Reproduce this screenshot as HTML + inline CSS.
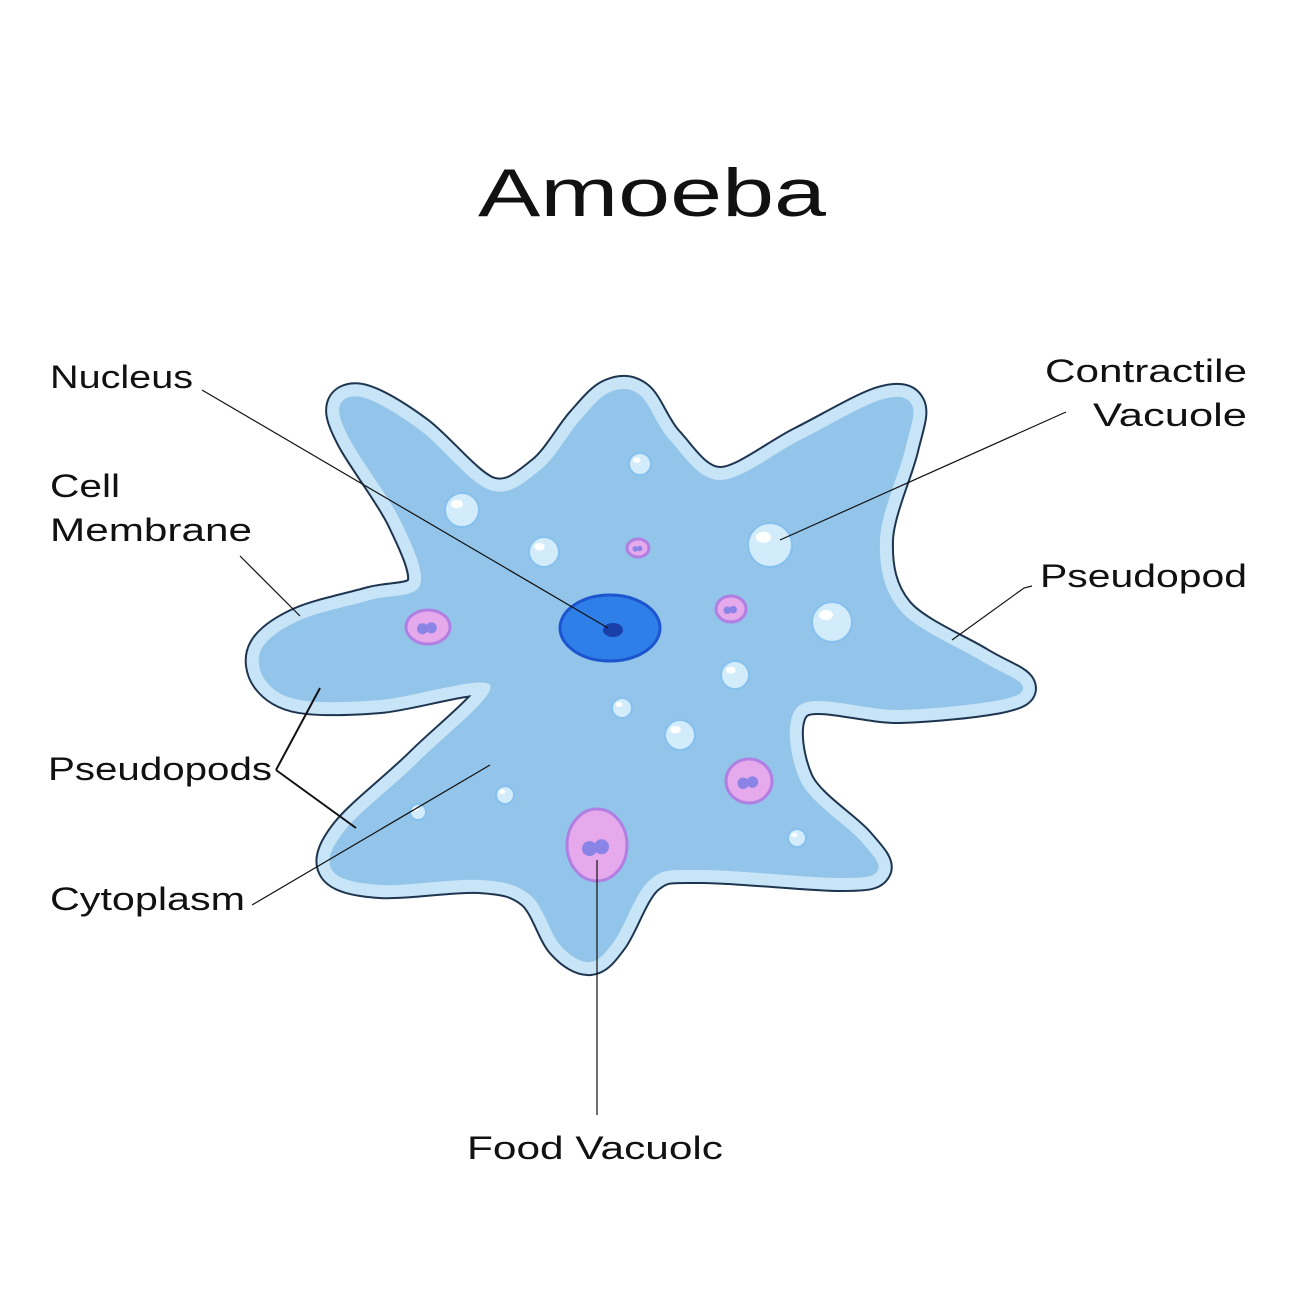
<!DOCTYPE html>
<html><head><meta charset="utf-8"><style>
body{margin:0;background:#fff}
svg{display:block}
text{font-family:"Liberation Sans",sans-serif;fill:#111}
</style></head><body>
<svg id="s" width="1300" height="1300" viewBox="0 0 1300 1300">
<rect width="1300" height="1300" fill="#fff"/>
<text x="478" y="216" font-size="68" textLength="348" lengthAdjust="spacingAndGlyphs">Amoeba</text>
<g id="body"></g>
<g id="orgs"></g>
<g stroke="#111" stroke-width="1.2" fill="none">
<line x1="202" y1="390" x2="608" y2="628"/>
<line x1="240" y1="556" x2="300" y2="616"/>
<line x1="1066" y1="412" x2="780" y2="540"/>
<polyline points="1032,586 1024,588 952,640"/>
<line x1="276" y1="770" x2="320" y2="688" stroke-width="2"/>
<line x1="276" y1="770" x2="356" y2="828" stroke-width="2"/>
<line x1="252" y1="905" x2="490" y2="765"/>
<line x1="597" y1="1115" x2="597" y2="860"/>
</g>
<g font-size="32" lengthAdjust="spacingAndGlyphs">
<text x="50" y="388" textLength="143" lengthAdjust="spacingAndGlyphs">Nucleus</text>
<text x="50" y="497" textLength="70" lengthAdjust="spacingAndGlyphs">Cell</text>
<text x="50" y="541" textLength="202" lengthAdjust="spacingAndGlyphs">Membrane</text>
<text x="1045" y="382" textLength="202" lengthAdjust="spacingAndGlyphs">Contractile</text>
<text x="1093" y="426" textLength="154" lengthAdjust="spacingAndGlyphs">Vacuole</text>
<text x="1040" y="587" textLength="207" lengthAdjust="spacingAndGlyphs">Pseudopod</text>
<text x="48" y="780" textLength="224" lengthAdjust="spacingAndGlyphs">Pseudopods</text>
<text x="50" y="910" textLength="195" lengthAdjust="spacingAndGlyphs">Cytoplasm</text>
<text x="467" y="1159" textLength="256" lengthAdjust="spacingAndGlyphs">Food Vacuolc</text>
</g>
</svg>
<script>
const outline=[[262,648],[300,620],[370,600],[420,585],[400,520],[350,440],[340,405],[365,398],[420,430],[490,490],[540,470],[580,420],[610,392],[640,395],[670,440],[720,480],[800,440],[880,400],[912,405],[905,450],[880,540],[900,610],[980,660],[1022,685],[1000,700],[900,710],[800,705],[800,780],[860,840],[878,870],[840,878],[700,870],[650,880],[615,940],[590,962],[560,945],[530,895],[480,880],[380,885],[332,870],[345,830],[420,760],[490,685],[380,700],[300,700],[265,680]];
function smooth(p){const n=p.length;let d=`M${p[0][0]},${p[0][1]}`;
for(let i=0;i<n;i++){const p0=p[(i-1+n)%n],p1=p[i],p2=p[(i+1)%n],p3=p[(i+2)%n];
d+=`C${p1[0]+(p2[0]-p0[0])/6},${p1[1]+(p2[1]-p0[1])/6} ${p2[0]-(p3[0]-p1[0])/6},${p2[1]-(p3[1]-p1[1])/6} ${p2[0]},${p2[1]}`;}return d+'Z';}
const NS='http://www.w3.org/2000/svg';const d=smooth(outline);
const body=document.getElementById('body');
[['#1e3550',28,'none'],['#c8e4f7',24,'none'],['none',0,'#93c5ea']].forEach((c,i)=>{
const p=document.createElementNS(NS,'path');p.setAttribute('d',d);p.setAttribute('stroke',c[0]);p.setAttribute('stroke-width',c[1]);p.setAttribute('fill',c[2]);p.setAttribute('stroke-linejoin','round');


body.appendChild(p);});
const orgs=document.getElementById('orgs');
function el(t,a,name){const e=document.createElementNS(NS,t);for(const k in a)e.setAttribute(k,a[k]);


orgs.appendChild(e);return e;}
el('ellipse',{cx:610,cy:628,rx:50,ry:33,fill:'#2f7fe8',stroke:'#1d55d0','stroke-width':3},'nucleus');
el('ellipse',{cx:613,cy:630,rx:10,ry:7,fill:'#1a3fa8'},'nucleolus');
const bubbles=[[462,510,17],[640,464,11],[544,552,15],[770,545,22],[832,622,20],[735,675,14],[680,735,15],[622,708,10],[505,795,9],[418,812,8],[797,838,9]];
bubbles.forEach(b=>{el('circle',{cx:b[0],cy:b[1],r:b[2],fill:'#d2ecfb',stroke:'#86c0ee','stroke-width':2},'contractile-vacuole');
el('ellipse',{cx:b[0]-b[2]*0.3,cy:b[1]-b[2]*0.35,rx:b[2]*0.35,ry:b[2]*0.25,fill:'#fff'},'bubble-highlight');});
const foods=[[428,627,22,17],[638,548,11,9],[731,609,15,13],[749,781,23,22],[597,845,30,36]];
foods.forEach(f=>{el('ellipse',{cx:f[0],cy:f[1],rx:f[2],ry:f[3],fill:'#e6a9ec',stroke:'#b07fe2','stroke-width':3},'food-vacuole');
el('circle',{cx:f[0]-f[2]*0.25,cy:f[1]+f[3]*0.1,r:f[2]*0.25,fill:'#8a84e6'},'food-particle');
el('circle',{cx:f[0]+f[2]*0.15,cy:f[1]+f[3]*0.05,r:f[2]*0.25,fill:'#8a84e6'},'food-particle');});
</script>
</body></html>
